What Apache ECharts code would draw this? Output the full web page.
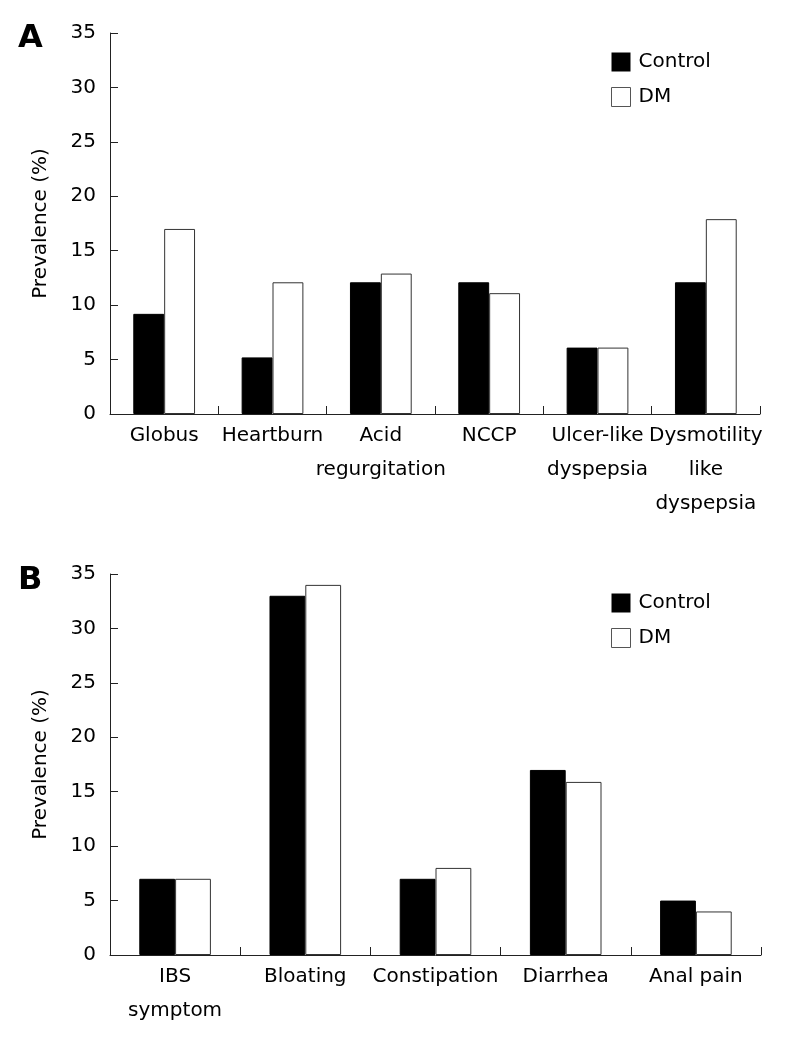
<!DOCTYPE html>
<html>
<head>
<meta charset="utf-8">
<script src="https://cdn.jsdelivr.net/npm/echarts@6/dist/echarts.min.js"></script>
<style>
html,body{margin:0;padding:0;background:#fff;}
#c{width:787px;height:1038px;}
</style>
</head>
<body>
<div id="c"></div>
<script>
var seriesNames = ['Control', 'DM'];
var categoriesA = ['Globus', 'Heartburn', 'Acid\nregurgitation', 'NCCP', 'Ulcer-like\ndyspepsia', 'Dysmotility\nlike\ndyspepsia'];
var controlA = [9.2, 5.2, 12.1, 12.1, 6.1, 12.1];
var dmA = [17, 12.1, 12.9, 11.1, 6.1, 17.9];
var categoriesB = ['IBS\nsymptom', 'Bloating', 'Constipation', 'Diarrhea', 'Anal pain'];
var controlB = [7, 33, 7, 17, 5];
var dmB = [7, 34, 8, 15.9, 4];
var yTicks = [0, 5, 10, 15, 20, 25, 30, 35];
var yName = 'Prevalence (%)';
var panelLabels = ['A', 'B'];

var FONT = 'DejaVu Sans';
var AX = '#222';
var chart = echarts.init(document.getElementById('c'), null, {renderer: 'canvas'});

function xAxis(idx, cats) {
  return {
    type: 'category', gridIndex: idx, data: cats,
    axisLine: {lineStyle: {color: AX, width: 1}},
    axisTick: {show: true, inside: true, length: 8, lineStyle: {color: AX, width: 1}},
    axisLabel: {interval: 0, color: '#000', fontFamily: FONT, fontSize: 20, lineHeight: 34, margin: 5}
  };
}
function yAxis(idx) {
  return {
    type: 'value', gridIndex: idx,
    min: yTicks[0], max: yTicks[yTicks.length - 1], interval: yTicks[1] - yTicks[0],
    name: yName, nameLocation: 'middle', nameGap: 59,
    nameTextStyle: {color: '#000', fontFamily: FONT, fontSize: 20},
    axisLine: {show: true, lineStyle: {color: AX, width: 1}},
    axisTick: {show: true, inside: true, length: 8, lineStyle: {color: AX}},
    axisLabel: {color: '#000', fontFamily: FONT, fontSize: 20, margin: 14},
    splitLine: {show: false}
  };
}
function bars(idx, ctrl, dm, gap) {
  return [
    {name: seriesNames[0], type: 'bar', xAxisIndex: idx, yAxisIndex: idx, data: ctrl,
     barGap: '0%', barCategoryGap: gap,
     itemStyle: {color: '#000', borderColor: '#000', borderWidth: 1}},
    {name: seriesNames[1], type: 'bar', xAxisIndex: idx, yAxisIndex: idx, data: dm,
     barGap: '0%', barCategoryGap: gap,
     itemStyle: {color: '#fff', borderColor: '#333', borderWidth: 1}}
  ];
}
function legend(top) {
  return {
    orient: 'vertical', left: 606, top: top,
    data: [
      {name: seriesNames[0], itemStyle: {color: '#000', borderColor: '#000', borderWidth: 0}},
      {name: seriesNames[1], itemStyle: {color: '#fff', borderColor: '#555', borderWidth: 1}}
    ],
    icon: 'rect', itemWidth: 19, itemHeight: 19, itemGap: 15,
    textStyle: {color: '#000', fontFamily: FONT, fontSize: 20, padding: [0, 0, 0, 3]},
    selectedMode: false
  };
}

chart.setOption({
  animation: false,
  backgroundColor: '#fff',
  title: [
    {text: panelLabels[0], left: 13, top: 18, textStyle: {fontFamily: FONT, fontWeight: 'bold', fontSize: 32, color: '#000'}},
    {text: panelLabels[1], left: 13, top: 560, textStyle: {fontFamily: FONT, fontWeight: 'bold', fontSize: 32, color: '#000'}}
  ],
  legend: [legend(47), legend(588)],
  grid: [
    {left: 110, top: 33, width: 650, height: 381},
    {left: 110, top: 574, width: 651, height: 381}
  ],
  xAxis: [xAxis(0, categoriesA), xAxis(1, categoriesB)],
  yAxis: [yAxis(0), yAxis(1)],
  series: bars(0, controlA, dmA, '43%').concat(bars(1, controlB, dmB, '45%'))
});
</script>
</body>
</html>
